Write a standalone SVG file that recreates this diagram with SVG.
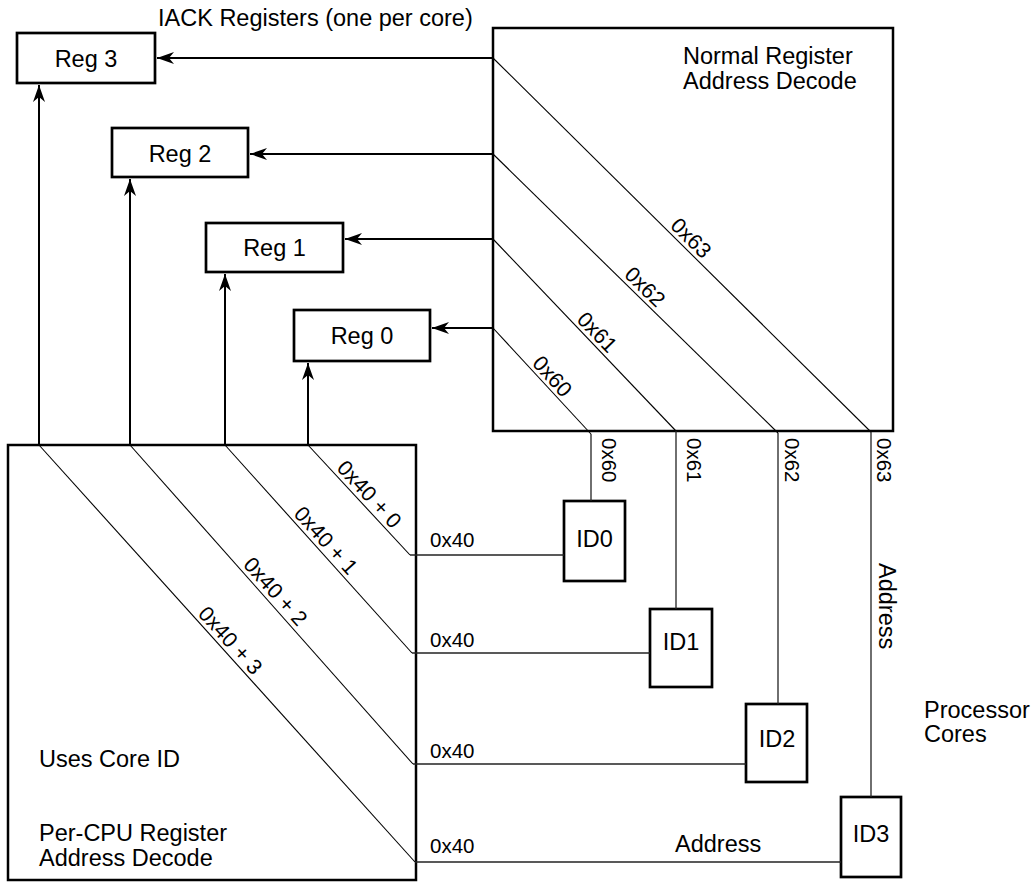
<svg xmlns="http://www.w3.org/2000/svg" width="1035" height="882" viewBox="0 0 1035 882">
<style>
.box{fill:#fff;stroke:#000;stroke-width:2.7}
.big{fill:none;stroke:#000;stroke-width:2.5}
.t{font-family:"Liberation Sans",Arial,sans-serif;font-size:23.5px;fill:#000}
.s{font-family:"Liberation Sans",Arial,sans-serif;font-size:20.5px;fill:#000}
.d{font-family:"Liberation Sans",Arial,sans-serif;font-size:21.5px;fill:#000;text-anchor:middle}
.c{text-anchor:middle}
.arr{fill:none;stroke:#000;stroke-width:2;marker-end:url(#ah)}
.diag{fill:none;stroke:#000;stroke-width:1.1}
.wire{fill:none;stroke:#222;stroke-width:1.3}
</style>
<defs>
<marker id="ah" viewBox="-18 -7 19 14" markerWidth="19" markerHeight="14" refX="0" refY="0" orient="auto" markerUnits="userSpaceOnUse">
<path d="M0,0 L-17,-6 L-12,0 L-17,6 Z" fill="#000"/>
</marker>
</defs>
<rect width="1035" height="882" fill="#fff"/>
<text class="t" x="158" y="26">IACK Registers (one per core)</text>

<g id="normal-decode">
<rect class="big" x="493" y="28" width="400" height="403"/>
<text class="t" x="683" y="64">Normal Register</text>
<text class="t" x="683" y="89">Address Decode</text>
</g>

<g id="percpu-decode">
<rect class="big" x="8" y="445" width="408" height="435"/>
<text class="t" x="39" y="767">Uses Core ID</text>
<text class="t" x="39" y="841">Per-CPU Register</text>
<text class="t" x="39" y="866">Address Decode</text>
</g>

<g id="reg3"><rect class="box" x="17" y="33" width="138" height="50"/><text class="t c" x="86" y="67">Reg 3</text></g>
<g id="reg2"><rect class="box" x="112" y="128" width="136" height="49"/><text class="t c" x="180" y="162">Reg 2</text></g>
<g id="reg1"><rect class="box" x="206" y="223" width="137" height="49"/><text class="t c" x="274.5" y="256">Reg 1</text></g>
<g id="reg0"><rect class="box" x="294" y="310" width="136" height="51"/><text class="t c" x="362" y="344">Reg 0</text></g>

<g id="id0"><rect class="box" x="564" y="501" width="61" height="80"/><text class="t c" x="594.5" y="547">ID0</text></g>
<g id="id1"><rect class="box" x="650" y="609" width="62" height="78"/><text class="t c" x="681" y="650">ID1</text></g>
<g id="id2"><rect class="box" x="746" y="704" width="61" height="78"/><text class="t c" x="777" y="747">ID2</text></g>
<g id="id3"><rect class="box" x="841" y="797" width="60" height="80"/><text class="t c" x="871" y="842">ID3</text></g>

<g id="processor-cores">
<text class="t" x="924" y="718">Processor</text>
<text class="t" x="924" y="742">Cores</text>
</g>

<g id="connectors">
<path class="arr" d="M493,58 H157"/>
<path class="arr" d="M493,154 H250"/>
<path class="arr" d="M493,239 H345"/>
<path class="arr" d="M493,328 H432"/>
<path class="arr" d="M39,445 V85"/>
<path class="arr" d="M130,445 V179"/>
<path class="arr" d="M225,445 V274"/>
<path class="arr" d="M308,445 V363"/>

<path class="diag" d="M493,58 L871,432"/>
<path class="diag" d="M493,154 L778,433"/>
<path class="diag" d="M493,239 L676,431"/>
<path class="diag" d="M493,328 L591,434"/>
<path class="wire" d="M871,432 V797"/>
<path class="wire" d="M778,433 V704"/>
<path class="wire" d="M676,431 V609"/>
<path class="wire" d="M591,434 V501"/>

<path class="diag" d="M308,445 L410,555"/>
<path class="diag" d="M225,445 L412,653"/>
<path class="diag" d="M130,445 L413,764"/>
<path class="diag" d="M39,445 L415,862"/>
<path class="wire" d="M410,555 H564"/>
<path class="wire" d="M412,653 H650"/>
<path class="wire" d="M413,764 H746"/>
<path class="wire" d="M415,862 H841"/>

<text class="d" transform="translate(683,246) rotate(44.7)" y="-4">0x63</text>
<text class="d" transform="translate(637,295) rotate(44.4)" y="-4">0x62</text>
<text class="d" transform="translate(589,340) rotate(46.2)" y="-4">0x61</text>
<text class="d" transform="translate(544,384) rotate(47.5)" y="-4">0x60</text>

<text class="d" transform="translate(361,502) rotate(47.2)" y="-4">0x40 + 0</text>
<text class="d" transform="translate(317.5,548) rotate(48.1)" y="-4">0x40 + 1</text>
<text class="d" transform="translate(267,599) rotate(48.3)" y="-4">0x40 + 2</text>
<text class="d" transform="translate(222,648) rotate(47.9)" y="-4">0x40 + 3</text>

<text class="s" transform="translate(602,438) rotate(90)">0x60</text>
<text class="s" transform="translate(687,438) rotate(90)">0x61</text>
<text class="s" transform="translate(785,438) rotate(90)">0x62</text>
<text class="s" transform="translate(877,438) rotate(90)">0x63</text>
<text class="t" transform="translate(879,563) rotate(90)">Address</text>

<text class="s" x="430" y="547">0x40</text>
<text class="s" x="430" y="647">0x40</text>
<text class="s" x="430" y="758">0x40</text>
<text class="s" x="430" y="853">0x40</text>
<text class="t" x="675" y="852">Address</text>
</g>
</svg>
